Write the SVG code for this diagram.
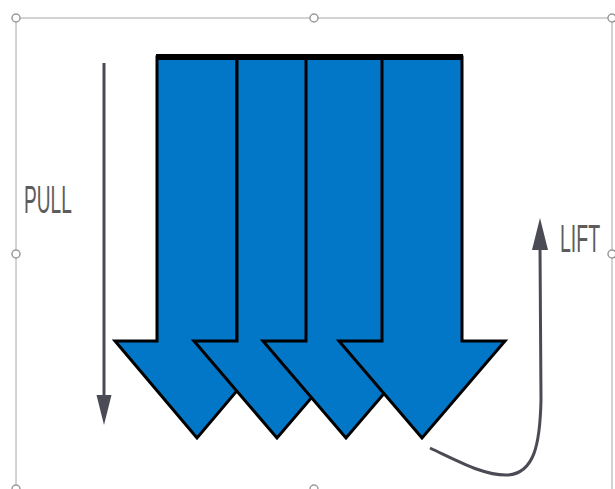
<svg xmlns="http://www.w3.org/2000/svg" width="615" height="489" viewBox="0 0 615 489">
<style>
.frame{stroke:#a6a6a6;stroke-width:1;fill:none}
.handle{fill:#fff;stroke:#9a9a9a;stroke-width:1.5}
.arrow{fill:#0377C7;stroke:#000;stroke-width:3;stroke-linejoin:miter}
.conn{stroke:#4b4b55;stroke-width:3;fill:none}
.head{fill:#4b4b55}
.lbl{font-family:"Liberation Sans",Arial,sans-serif;font-size:39px;fill:#5c5c5c}
</style>
<rect width="615" height="489" fill="#fff"/>
<g id="selection-frame">
<path class="frame" d="M16,18 H612 M16,18 V489 M612,18 V489"/>
<circle class="handle" cx="16" cy="18" r="4"/>
<circle class="handle" cx="314" cy="18" r="4"/>
<circle class="handle" cx="612" cy="18" r="4"/>
<circle class="handle" cx="16" cy="254" r="4"/>
<circle class="handle" cx="612" cy="254" r="4"/>
<circle class="handle" cx="16" cy="489" r="4"/>
<circle class="handle" cx="314" cy="489" r="4"/>
</g>
<g id="arrow1"><polygon class="arrow" points="157,57 237,57 237,341 279,341 197,438 115,341 157,341"/></g>
<g id="arrow2"><polygon class="arrow" points="237,57 317,57 317,341 360,341 277,438 194,341 237,341"/></g>
<g id="arrow3"><polygon class="arrow" points="306,57 386,57 386,341 429,341 346,438 263,341 306,341"/></g>
<g id="arrow4"><polygon class="arrow" points="382,57 462,57 462,341 505,341 422,438 339,341 382,341"/></g>
<path d="M156,57 H463" stroke="#000" stroke-width="6"/>
<g id="connectors">
<path class="conn" d="M104,63 V398"/>
<polygon class="head" points="96.5,395 111.5,395 104,425"/>
<path class="conn" d="M430,448 C460,462 485,476 508,475 C534,473 540,445 541,400 L540,246"/>
<polygon class="head" points="532,250 548,250 540,218"/>
</g>
<g id="label-pull"><text class="lbl" transform="translate(24,213) scale(0.49,1)">PULL</text></g>
<g id="label-lift"><text class="lbl" transform="translate(560,252) scale(0.5,1)">LIFT</text></g>
</svg>
